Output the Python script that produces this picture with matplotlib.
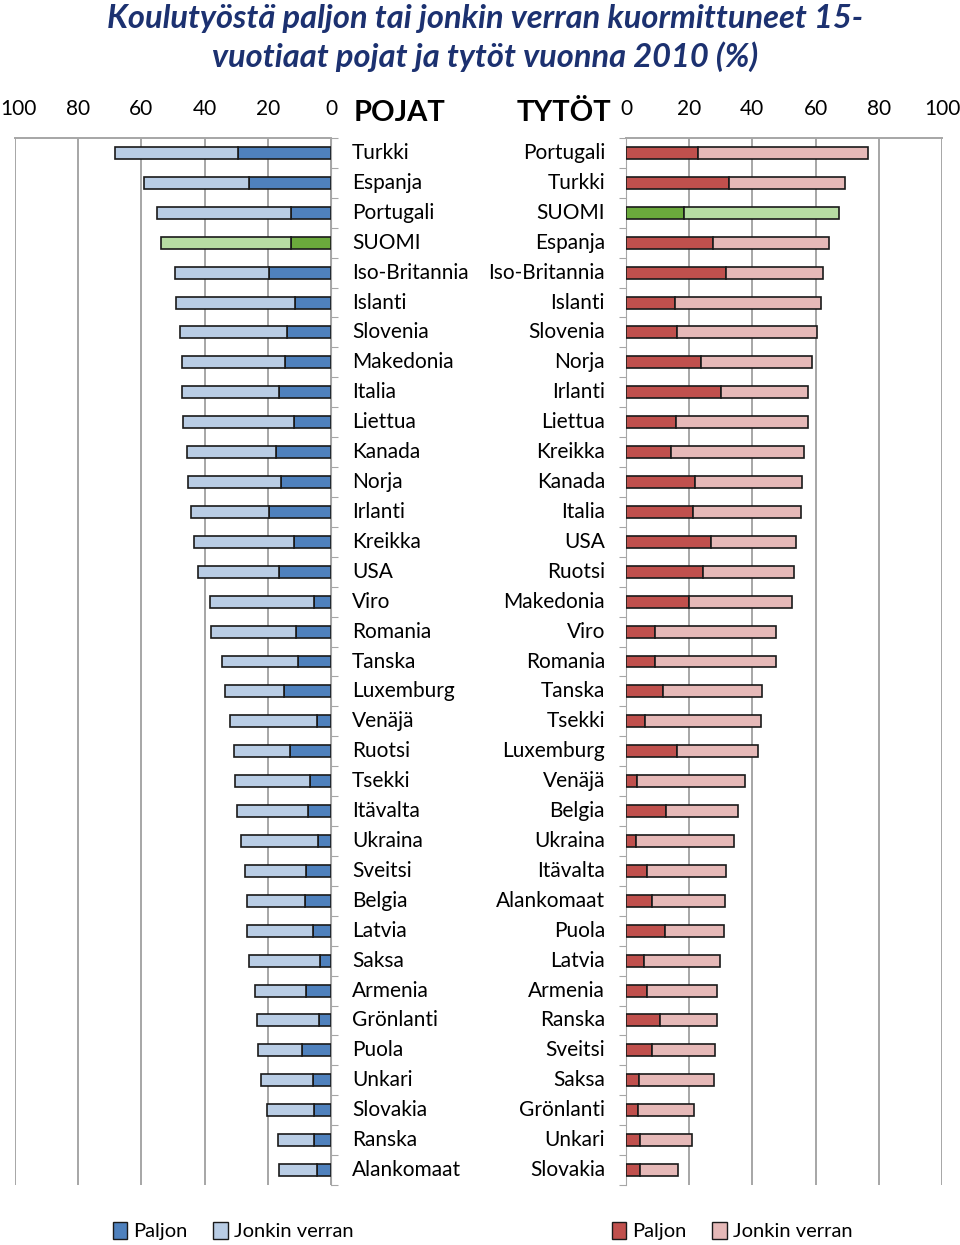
import matplotlib.pyplot as plt
import numpy as np
from matplotlib.patches import Patch
from matplotlib.transforms import blended_transform_factory, ScaledTranslation

plt.rcParams['font.family'] = ['Lato', 'DejaVu Sans']

# Pojat (ylhäältä alas)
pojat_maat = ['Turkki', 'Espanja', 'Portugali', 'SUOMI', 'Iso-Britannia', 'Islanti', 'Slovenia',
              'Makedonia', 'Italia', 'Liettua', 'Kanada', 'Norja', 'Irlanti', 'Kreikka', 'USA',
              'Viro', 'Romania', 'Tanska', 'Luxemburg', 'Venäjä', 'Ruotsi', 'Tsekki', 'Itävalta',
              'Ukraina', 'Sveitsi', 'Belgia', 'Latvia', 'Saksa', 'Armenia', 'Grönlanti', 'Puola',
              'Unkari', 'Slovakia', 'Ranska', 'Alankomaat']
pojat_paljon = [29.3, 26.0, 12.8, 12.6, 19.5, 11.4, 13.9, 14.4, 16.4, 11.6, 17.4, 15.8, 19.7, 11.6,
                16.6, 5.3, 11.2, 10.5, 14.9, 4.4, 13.0, 6.6, 7.4, 4.0, 7.9, 8.1, 5.8, 3.6, 7.9,
                3.9, 9.3, 5.8, 5.5, 5.3, 4.3]
pojat_yht = [68.3, 59.3, 55.0, 53.7, 49.5, 49.1, 47.7, 47.3, 47.1, 46.7, 45.7, 45.3, 44.4, 43.2,
             42.1, 38.3, 37.9, 34.6, 33.5, 32.1, 30.8, 30.4, 29.6, 28.4, 27.1, 26.7, 26.5, 25.8,
             23.9, 23.3, 23.0, 22.3, 20.3, 16.7, 16.5]

# Tytöt (ylhäältä alas)
tytot_maat = ['Portugali', 'Turkki', 'SUOMI', 'Espanja', 'Iso-Britannia', 'Islanti', 'Slovenia',
              'Norja', 'Irlanti', 'Liettua', 'Kreikka', 'Kanada', 'Italia', 'USA', 'Ruotsi',
              'Makedonia', 'Viro', 'Romania', 'Tanska', 'Tsekki', 'Luxemburg', 'Venäjä', 'Belgia',
              'Ukraina', 'Itävalta', 'Alankomaat', 'Puola', 'Latvia', 'Armenia', 'Ranska',
              'Sveitsi', 'Saksa', 'Grönlanti', 'Unkari', 'Slovakia']
tytot_paljon = [22.9, 32.5, 18.4, 27.4, 31.7, 15.5, 16.2, 23.8, 30.0, 15.7, 14.1, 21.9, 21.1, 26.9,
                24.3, 20.0, 9.3, 9.3, 11.8, 6.1, 16.0, 3.6, 12.6, 3.1, 6.6, 8.1, 12.4, 5.6, 6.6,
                10.7, 8.3, 4.2, 3.8, 4.4, 4.4]
tytot_yht = [76.5, 69.3, 67.3, 64.1, 62.3, 61.8, 60.4, 59.0, 57.7, 57.6, 56.3, 55.6, 55.4, 53.9,
             53.3, 52.5, 47.4, 47.4, 42.9, 42.8, 41.9, 37.7, 35.6, 34.2, 31.5, 31.3, 31.0, 29.6,
             28.9, 28.7, 28.2, 27.9, 21.5, 20.9, 16.4]

W, H = 960, 1245
fig = plt.figure(figsize=(W / 100, H / 100), dpi=100)

def px_axes(x0, x1, y0, y1):
    return fig.add_axes([x0 / W, 1 - y1 / H, (x1 - x0) / W, (y1 - y0) / H])

axL = px_axes(15, 331, 138, 1185)
axR = px_axes(626, 942, 138, 1185)

sininen, vaaleansininen = '#4F81BD', '#B9CDE5'
punainen, vaaleanpunainen = '#C0504D', '#E6B9B8'
vihrea, vaaleanvihrea = '#6BAA3C', '#B7DDA3'

n = len(pojat_maat)
y = np.arange(n)
bar_h = 0.4

def piirra(ax, maat, paljon, yht, c1, c2):
    paljon = np.array(paljon)
    jonkin = np.array(yht) - paljon
    col1 = [vihrea if m == 'SUOMI' else c1 for m in maat]
    col2 = [vaaleanvihrea if m == 'SUOMI' else c2 for m in maat]
    ax.barh(y, paljon, height=bar_h, color=col1, edgecolor='#1a1a1a', linewidth=1.2, zorder=3)
    ax.barh(y, jonkin, left=paljon, height=bar_h, color=col2, edgecolor='#1a1a1a',
            linewidth=1.2, zorder=3)
    ax.set_xlim(0, 100)
    ax.set_ylim(n - 0.5, -0.5)
    ax.set_xticks([0, 20, 40, 60, 80, 100])
    ax.xaxis.tick_top()
    ax.tick_params(axis='x', length=0, pad=14, labelsize=15)
    ax.grid(axis='x', color='#A6A6A6', linewidth=1.4, zorder=0)
    ax.set_yticks(np.arange(n + 1) - 0.5)
    ax.set_yticklabels([])
    for s in ax.spines.values():
        s.set_visible(False)
    ax.spines['top'].set_visible(True)
    ax.spines['top'].set_color('#A6A6A6')
    ax.spines['top'].set_linewidth(1.4)

piirra(axL, pojat_maat, pojat_paljon, pojat_yht, sininen, vaaleansininen)
axL.invert_xaxis()
axL.yaxis.tick_right()
axL.spines['right'].set_visible(True)
axL.spines['right'].set_color('#A6A6A6')
axL.tick_params(axis='y', direction='out', length=5, color='#A6A6A6', right=True, left=False)
# "100" hieman oikealle, ettei leikkaudu reunasta
siirto = ScaledTranslation(3 / 100, 0, fig.dpi_scale_trans)
lab100 = axL.get_xticklabels()[-1]
lab100.set_transform(lab100.get_transform() + siirto)

piirra(axR, tytot_maat, tytot_paljon, tytot_yht, punainen, vaaleanpunainen)
axR.spines['left'].set_visible(True)
axR.spines['left'].set_color('#A6A6A6')
axR.tick_params(axis='y', direction='out', length=5, color='#A6A6A6')

# maiden nimet
trL = blended_transform_factory(fig.transFigure, axL.transData)
for i, m in enumerate(pojat_maat):
    fig.text(352 / W, i, m, transform=trL, ha='left', va='center', fontsize=15)
trR = blended_transform_factory(fig.transFigure, axR.transData)
for i, m in enumerate(tytot_maat):
    fig.text(605 / W, i, m, transform=trR, ha='right', va='center', fontsize=15)

fig.text(354 / W, 1 - 113 / H, 'POJAT', ha='left', va='center', fontsize=21, fontweight='bold')
fig.text(611 / W, 1 - 113 / H, 'TYTÖT', ha='right', va='center', fontsize=21, fontweight='bold')

fig.text(485 / W, 1 - 38 / H, 'Koulutyöstä paljon tai jonkin verran kuormittuneet 15-\nvuotiaat pojat ja tytöt vuonna 2010 (%)',
         ha='center', va='center', fontsize=23.5, fontweight='bold', fontstyle='italic',
         color='#1C3170', linespacing=1.35)

# selitteet
def selite(c1, c2, x):
    kahvat = [Patch(facecolor=c1, edgecolor='#1a1a1a', linewidth=1.0, label='Paljon'),
              Patch(facecolor=c2, edgecolor='#1a1a1a', linewidth=1.0, label='Jonkin verran')]
    lg = fig.legend(handles=kahvat, loc='center', bbox_to_anchor=(x / W, 1 - 1231 / H), ncol=2,
                    frameon=False, fontsize=14.5, handlelength=0.7, handleheight=0.9,
                    handletextpad=0.3, columnspacing=1.3)
    return lg

selite(sininen, vaaleansininen, 233)
selite(punainen, vaaleanpunainen, 732)

fig.savefig('out.png', dpi=100)
